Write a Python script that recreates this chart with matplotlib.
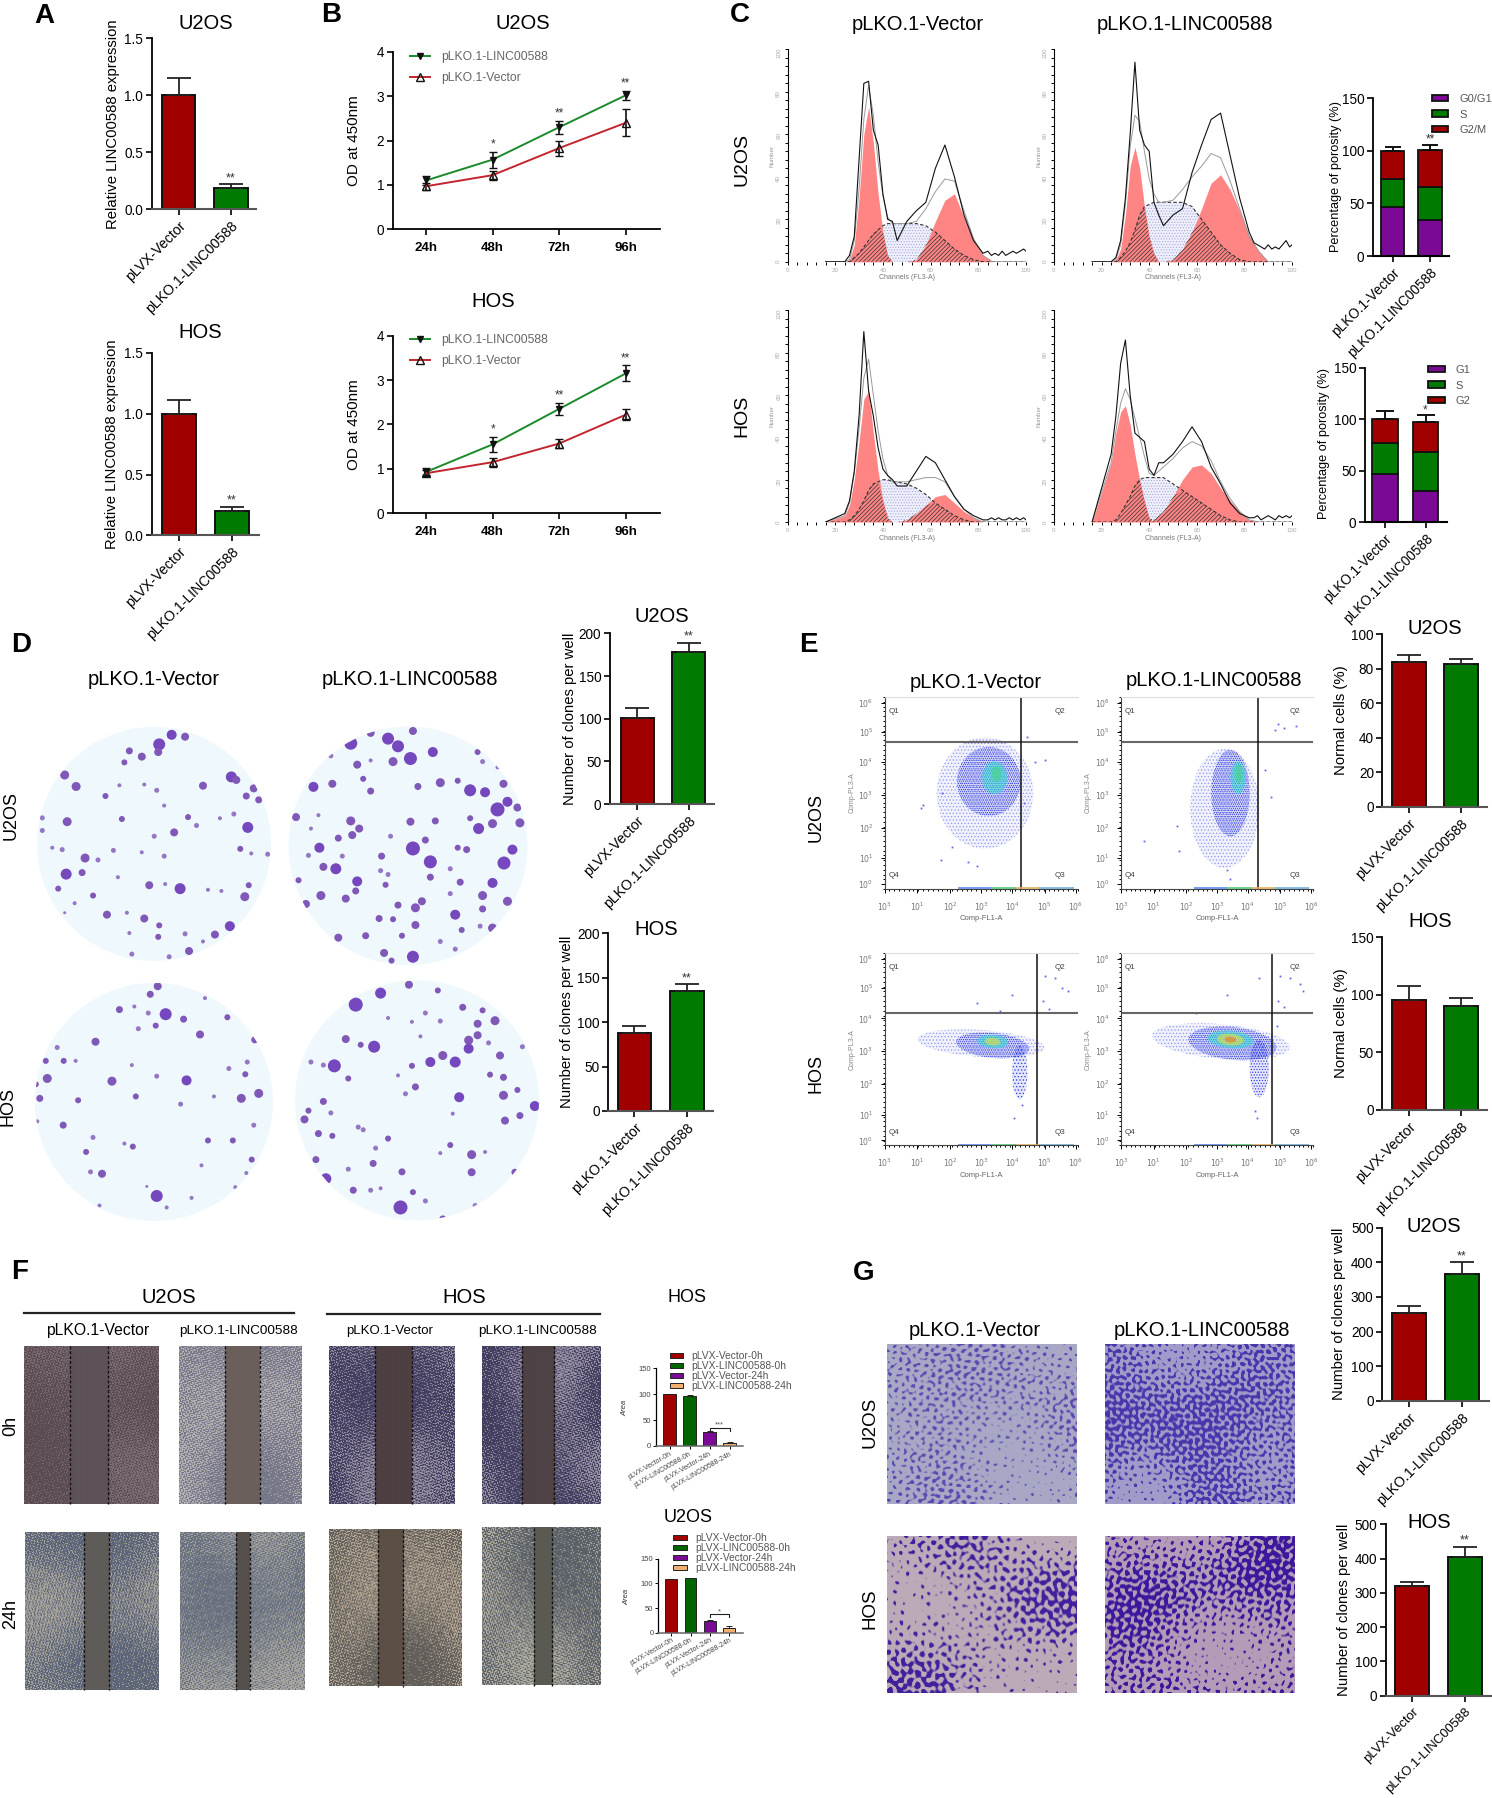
import numpy as np
import matplotlib
matplotlib.use('Agg')
import matplotlib.pyplot as plt
from matplotlib.patches import Ellipse
from matplotlib.colors import to_rgb
from matplotlib.ticker import MultipleLocator
from matplotlib.transforms import ScaledTranslation

plt.rcParams['font.family'] = ['Liberation Sans', 'DejaVu Sans']
plt.rcParams['hatch.linewidth'] = 0.5

W, H = 1492, 1798
RED = '#a00000'
GREEN = '#007a00'
PURPLE = '#7a0a96'

# panel A
a_u2os = [1.0, 0.19]
a_u2os_top = [1.15, 0.22]
a_hos = [1.0, 0.2]
a_hos_top = [1.11, 0.235]
lab_lvx = ['pLVX-Vector', 'pLKO.1-LINC00588']
lab_lko = ['pLKO.1-Vector', 'pLKO.1-LINC00588']

# panel B
hours = ['24h', '48h', '72h', '96h']
b_u_linc = [1.1, 1.57, 2.3, 3.02]
b_u_linc_err = [0.1, 0.18, 0.15, 0.1]
b_u_vec = [0.97, 1.22, 1.83, 2.4]
b_u_vec_err = [0.08, 0.1, 0.17, 0.3]
b_h_linc = [0.93, 1.55, 2.35, 3.15]
b_h_linc_err = [0.08, 0.17, 0.14, 0.18]
b_h_vec = [0.9, 1.15, 1.57, 2.22]
b_h_vec_err = [0.07, 0.1, 0.1, 0.12]
b_u_stars = ['', '*', '**', '**']
b_h_stars = ['', '*', '**', '**']

# panel C histograms, percent of panel height against channel
ch = [16, 24, 26, 28, 30, 32, 34, 36, 38, 40, 42, 44, 46, 50, 54, 58, 62, 66, 70, 74, 78, 82, 86, 90, 94, 98, 100]
c1_g1 = [0, 0, 1, 8, 30, 60, 73, 56, 32, 14, 3, 0, 0, 0, 0, 0, 0, 0, 0, 0, 0, 0, 0, 0, 0, 0, 0]
c1_s = [0, 0, 0, 2, 4, 7, 10, 13, 15, 17, 18, 18, 18, 18, 18, 17, 14, 10, 6, 3, 1, 0, 0, 0, 0, 0, 0]
c1_g2 = [0, 0, 0, 0, 0, 0, 0, 0, 0, 0, 0, 0, 0, 0, 1, 8, 19, 29, 32, 21, 10, 3, 0, 0, 0, 0, 0]
c1_raw = [0, 0, 3, 12, 48, 84, 85, 62, 55, 32, 20, 19, 10, 19, 24, 28, 44, 55, 40, 22, 10, 4]
c2_g1 = [0, 0, 1, 6, 22, 45, 54, 44, 26, 12, 4, 0, 0, 0, 0, 0, 0, 0, 0, 0, 0, 0, 0, 0, 0, 0, 0]
c2_s = [0, 0, 0, 2, 5, 9, 15, 22, 26, 27, 28, 28, 28, 28, 28, 26, 20, 14, 8, 4, 1, 0, 0, 0, 0, 0, 0]
c2_g2 = [0, 0, 0, 0, 0, 0, 0, 0, 0, 0, 0, 0, 0, 1, 6, 14, 25, 37, 41, 34, 24, 12, 5, 0, 0, 0, 0]
c2_raw = [0, 0, 2, 10, 30, 60, 94, 62, 55, 52, 28, 22, 17, 22, 25, 42, 55, 67, 70, 50, 30, 14]
c3_g1 = [0, 3, 8, 20, 38, 58, 62, 42, 24, 10, 2, 0, 0, 0, 0, 0, 0, 0, 0, 0, 0, 0, 0, 0, 0, 0, 0]
c3_s = [0, 0, 1, 3, 6, 10, 15, 18, 19, 20, 20, 19, 19, 18, 16, 13, 9, 6, 3, 1, 0, 0, 0, 0, 0, 0, 0]
c3_g2 = [0, 0, 0, 0, 0, 0, 0, 0, 0, 0, 0, 0, 0, 1, 4, 8, 12, 13, 9, 5, 2, 0, 0, 0, 0, 0, 0]
c3_raw = [0, 4, 10, 24, 50, 90, 62, 50, 35, 25, 22, 20, 17, 17, 24, 31, 28, 20, 12, 6, 3, 1]
c4_g1 = [0, 28, 42, 52, 55, 46, 32, 20, 10, 2, 0, 0, 0, 0, 0, 0, 0, 0, 0, 0, 0, 0, 0, 0, 0, 0, 0]
c4_s = [0, 0, 1, 4, 8, 12, 17, 20, 21, 21, 21, 21, 21, 18, 15, 12, 9, 6, 3, 1, 0, 0, 0, 0, 0, 0, 0]
c4_g2 = [0, 0, 0, 0, 0, 0, 0, 0, 0, 0, 1, 3, 5, 12, 20, 26, 27, 23, 16, 10, 5, 1, 0, 0, 0, 0, 0]
c4_raw = [0, 32, 50, 75, 86, 60, 42, 40, 38, 25, 22, 28, 28, 32, 38, 45, 38, 26, 18, 9, 4, 2]
# debris tail of the raw trace past channel 82
tail_ch = [84, 85.5, 87, 88.5, 90, 91.5, 93, 94.5, 96, 97.5, 99, 100]
c1_tail = [5, 3, 4, 3, 5, 3, 4, 5, 4, 5, 6, 5]
c2_tail = [9, 8, 7, 6, 8, 6, 7, 6, 8, 10, 7, 8]
c3_tail = [1, 2, 1, 2, 1, 1, 2, 1, 2, 1, 2, 1]
c4_tail = [2, 3, 1, 2, 3, 2, 1, 3, 2, 3, 2, 3]

# panel C stacked bars
c_u_g1 = [47, 34]
c_u_s = [26, 32]
c_u_g2 = [26.5, 35]
c_u_top = [104, 106]
c_h_g1 = [47, 30]
c_h_s = [30, 38]
c_h_g2 = [23, 29]
c_h_top = [108, 104]

# panel D
d_u2os = [101, 178]
d_u2os_top = [112, 189]
d_hos = [88, 135]
d_hos_top = [96, 143]

# panel E
e_u2os = [84, 83]
e_u2os_top = [88, 86]
e_hos = [95, 90]
e_hos_top = [108, 97.5]

# panel F small bars
f_names = ['pLVX-Vector-0h', 'pLVX-LINC00588-0h', 'pLVX-Vector-24h', 'pLVX-LINC00588-24h']
f_colors = ['#a00000', '#006400', '#7a0a96', '#f2b070']
f_hos = [100, 97, 27, 6]
f_hos_top = [101, 98, 28, 8]
f_u2os = [108, 110, 24, 9]
f_u2os_top = [109, 111.5, 25, 13]

# panel G
g_u2os = [253, 365]
g_u2os_top = [275, 400]
g_hos = [320, 405]
g_hos_top = [333, 435]

# colonies read from the plates, x, y, radius
plate1 = [(320,325,12),(345,300,10),(372,305,8),(260,342,7),(285,357,8),(318,345,8),(250,372,6),(130,405,9),(153,435,9),(212,460,6),(240,432,4),(290,430,4),(315,445,5),(408,433,8),(465,410,11),(475,418,8),(495,460,7),(510,440,8),(520,470,7),(135,527,9),(85,517,5),(245,520,6),(330,485,4),(378,515,6),(395,537,5),(442,518,4),(470,507,5),(498,542,11),(350,555,8),(310,565,5),(85,550,5),(105,595,4),(125,600,5),(171,622,9),(197,627,5),(228,602,5),(285,607,4),(330,617,5),(483,598,6),(505,610,4),(538,612,5),(133,664,11),(165,660,7),(237,672,4),(300,693,8),(332,690,4),(362,702,11),(418,705,4),(445,708,4),(500,693,6),(117,702,6),(187,720,6),(492,723,9),(150,740,4),(215,770,8),(255,765,4),(290,780,8),(130,765,3),(318,828,6),(320,798,6),(260,818,4),(372,820,5),(432,822,8),(462,800,10),(408,840,4),(380,865,8),(265,873,5),(340,880,5)]
plate2 = [(705,322,13),(745,295,8),(780,310,12),(800,330,12),(830,290,8),(825,362,13),(870,345,10),(790,370,9),(665,355,5),(718,378,8),(745,367,4),(960,345,6),(970,370,5),(1000,385,4),(630,436,10),(668,428,8),(730,415,6),(745,447,7),(840,435,7),(885,425,9),(920,420,6),(945,445,12),(975,450,10),(1012,428,8),(1040,490,8),(1000,495,14),(1020,475,10),(595,515,8),(640,510,4),(705,525,9),(722,545,8),(708,562,8),(680,570,7),(642,595,10),(625,545,4),(785,565,5),(825,527,8),(875,525,7),(945,518,6),(962,545,11),(990,532,9),(1045,530,9),(1030,600,10),(830,597,14),(855,575,7),(767,617,7),(688,617,5),(620,615,5),(650,645,8),(675,650,11),(865,632,13),(920,595,6),(938,600,7),(1013,635,13),(905,650,5),(765,655,5),(780,665,5),(718,683,10),(600,680,6),(645,720,9),(695,728,8),(715,708,7),(775,692,6),(865,672,7),(925,685,7),(990,687,10),(970,720,9),(905,715,5),(615,742,8),(800,745,7),(835,752,9),(848,735,8),(970,755,7),(1020,735,9),(915,770,10),(762,780,7),(790,782,6),(835,797,8),(928,810,6),(965,800,5),(990,805,9),(735,825,7),(680,830,8),(808,825,6),(772,870,8),(787,890,6),(830,880,12),(915,860,5),(885,840,5)]
plate3 = [(317,957,8),(302,978,7),(412,988,4),(240,1018,7),(270,1010,4),(298,1027,5),(333,1030,12),(369,1043,7),(457,1038,6),(278,1068,5),(313,1060,6),(402,1083,8),(192,1102,8),(512,1097,7),(115,1117,5),(128,1152,6),(92,1152,6),(152,1152,4),(265,1163,4),(460,1172,5),(497,1155,5),(493,1187,6),(95,1198,9),(80,1250,7),(225,1205,9),(315,1192,5),(375,1203,10),(72,1213,6),(520,1237,9),(157,1255,6),(273,1245,6),(430,1245,4),(485,1250,9),(363,1265,5),(127,1320,7),(75,1310,4),(510,1320,5),(187,1352,5),(418,1360,6),(468,1360,6),(250,1368,4),(267,1376,6),(173,1390,6),(506,1410,6),(205,1447,8),(182,1442,5),(405,1425,4),(495,1445,4),(315,1505,12),(200,1530,4),(385,1510,4),(473,1482,4),(335,1535,4),(295,1480,3)]
plate4 = [(715,1005,14),(765,975,11),(822,953,8),(880,968,6),(930,1012,7),(970,1020,6),(995,1047,9),(960,1055,8),(885,1048,5),(828,1050,4),(780,1040,4),(855,1027,5),(695,1095,8),(725,1110,6),(752,1115,12),(845,1088,4),(942,1098,9),(942,1120,10),(960,1085,8),(1005,1138,8),(982,1105,5),(890,1138,9),(865,1155,10),(915,1155,11),(672,1165,13),(650,1163,5),(625,1155,5),(828,1165,6),(1050,1115,5),(985,1188,6),(1012,1195,7),(800,1190,4),(700,1198,6),(835,1220,7),(815,1238,5),(923,1247,10),(1012,1242,9),(1075,1270,10),(1040,1228,6),(650,1258,7),(620,1282,6),(665,1288,5),(612,1305,8),(1045,1295,7),(1015,1308,8),(910,1290,4),(640,1342,7),(668,1348,6),(720,1325,5),(730,1332,5),(780,1355,6),(755,1380,5),(905,1372,6),(948,1397,9),(975,1390,4),(885,1393,4),(635,1410,7),(655,1460,11),(750,1420,7),(808,1442,7),(948,1443,8),(1035,1443,7),(700,1435,5),(710,1490,7),(745,1490,5),(830,1495,6),(805,1535,14),(765,1485,4),(855,1518,5),(955,1530,5),(890,1565,7),(680,1520,4)]

fig = plt.figure(figsize=(W / 100, H / 100), dpi=100)

# whole figure in pixels, for photos and loose text
bg = fig.add_axes([0, 0, 1, 1])
bg.set_xlim(0, W)
bg.set_ylim(H, 0)
bg.set_autoscale_on(False)
bg.axis('off')


def px_axes(x0, y0, x1, y1):
    # pixel box, y measured from the top
    return fig.add_axes([x0 / W, 1 - y1 / H, (x1 - x0) / W, (y1 - y0) / H], facecolor='none')


def fx(x, y):
    return (x / W, 1 - y / H)


def txt(x, y, s, size=14.5, rot=0, **kw):
    bg.text(x, y, s, fontsize=size, rotation=rot, ha='center', va='center', **kw)


def nudge_labels(ax, dx=-3):
    off = ScaledTranslation(dx / 100, 0, fig.dpi_scale_trans)
    for lbl in ax.get_xticklabels():
        lbl.set_transform(lbl.get_transform() + off)


def bar_panel(box, c1, c2, bw, ylim, yticks, vals, tops, labels, ylabel, ylab_x, star=None, lab_size=10.2):
    x0, y0, x1, y1 = box
    ax = px_axes(*box)
    d = c2 - c1
    ax.set_xlim(-(c1 - x0) / d, (x1 - c1) / d)
    ax.set_ylim(0, ylim)
    for i, v in enumerate(vals):
        ax.bar(i, v, width=bw / d, color=[RED, GREEN][i], edgecolor='#111111', linewidth=1.4)
        ax.errorbar(i, v, yerr=[[0], [tops[i] - v]], color='#222222', capsize=bw * 0.26, elinewidth=1.3, capthick=1.3)
    ax.set_xticks([0, 1])
    ax.set_xticklabels(labels, rotation=45, ha='right', va='top', rotation_mode='anchor', fontsize=lab_size)
    nudge_labels(ax)
    ax.set_yticks(yticks)
    ax.tick_params(axis='y', labelsize=9.8, width=1.2, length=4, pad=2)
    ax.tick_params(axis='x', width=1.2, length=4, pad=3)
    for s in ['top', 'right']:
        ax.spines[s].set_visible(False)
    ax.spines['left'].set_linewidth(1.3)
    ax.spines['bottom'].set_linewidth(1.5)
    ax.spines['bottom'].set_color('#555555')
    if star:
        ax.text(1, tops[1], star, ha='center', va='bottom', fontsize=9, color='#333333')
    txt(ylab_x, (y0 + y1) / 2, ylabel, size=10.7, rot=90)
    return ax


def line_panel(box, linc, linc_err, vec, vec_err, stars, leg_top):
    x0, y0, x1, y1 = box
    ax = px_axes(*box)
    c1, d = 426, 66.6
    ax.set_xlim(-(c1 - x0) / d, (x1 - c1) / d)
    ax.set_ylim(0, 4)
    xs = np.arange(4)
    ax.errorbar(xs, linc, yerr=linc_err, fmt='none', ecolor='#111111', capsize=3, elinewidth=1.2)
    ax.errorbar(xs, vec, yerr=vec_err, fmt='none', ecolor='#111111', capsize=3, elinewidth=1.2)
    ax.plot(xs, linc, color='#1a8a2a', lw=1.4, marker='v', ms=5, mfc='#111111', mec='#111111', label='pLKO.1-LINC00588')
    ax.plot(xs, vec, color='#c4242e', lw=1.4, marker='^', ms=6, mfc='none', mec='#111111', label='pLKO.1-Vector')
    for i, st in enumerate(stars):
        if st:
            ax.text(i, linc[i] + linc_err[i] + 0.03, st, ha='center', va='bottom', fontsize=8.5, color='#333333')
    ax.set_xticks(xs)
    ax.set_xticklabels(hours, fontsize=9.5, fontweight='bold')
    ax.set_yticks(range(5))
    ax.tick_params(axis='y', labelsize=9.8, width=1.2, length=4, pad=2)
    ax.tick_params(axis='x', width=1.2, length=4, pad=5)
    for s in ['top', 'right']:
        ax.spines[s].set_visible(False)
    ax.spines['left'].set_linewidth(1.3)
    ax.spines['bottom'].set_linewidth(1.3)
    ax.legend(loc='upper left', bbox_to_anchor=fx(409.5, leg_top), bbox_transform=fig.transFigure, frameon=False,
              fontsize=8.7, borderpad=0, borderaxespad=0, handlelength=1.66, labelspacing=0.75, handletextpad=1.0,
              labelcolor='#666666')
    txt(354, (y0 + y1) / 2, 'OD at 450nm', size=11, rot=90)
    return ax


def hist_panel(box, g1, s_phase, g2, raw, tail):
    ax = px_axes(*box)
    x = np.array(ch)
    g1, s_phase, g2 = map(np.array, (g1, s_phase, g2))
    ax.fill_between(x, s_phase, color='#eef0fb', lw=0, zorder=1)
    ax.fill_between(x, s_phase, facecolor='none', edgecolor='#a8a8dc', hatch='......', lw=0, zorder=1)
    ax.fill_between(x, g1, color='#ff8585', lw=0, zorder=2)
    ax.fill_between(x, g2, color='#ff8585', lw=0, zorder=2)
    overlap = np.minimum(s_phase, np.maximum(g1, g2))
    ax.fill_between(x, overlap, facecolor='none', edgecolor='#333333', hatch='////////', lw=0, zorder=3)
    ax.plot(x, s_phase, color='#333333', lw=0.8, ls=(0, (3, 2)), zorder=4)
    ax.plot(x, g1 + s_phase + g2, color='#999999', lw=0.7, zorder=4)
    ax.plot(ch[:22] + tail_ch, raw + tail, color='#111111', lw=0.8, zorder=5)
    ax.set_xlim(0, 100)
    ax.set_ylim(0, 100)
    ax.xaxis.set_major_locator(MultipleLocator(20))
    ax.xaxis.set_minor_locator(MultipleLocator(4))
    ax.yaxis.set_major_locator(MultipleLocator(20))
    ax.yaxis.set_minor_locator(MultipleLocator(4))
    ax.tick_params(which='both', width=0.7, length=2.5, labelsize=4.5, labelcolor='#aaaaaa', pad=2, direction='out')
    ax.tick_params(axis='y', which='both', labelrotation=90)
    for s in ['top', 'right']:
        ax.spines[s].set_visible(False)
    ax.spines['bottom'].set_visible(False)
    ax.spines['left'].set_linewidth(0.8)
    ax.set_xlabel('Channels (FL3-A)', fontsize=5, color='#777777', labelpad=1)
    ax.set_ylabel('Number', fontsize=4.5, color='#999999', labelpad=1)
    return ax


def stack_panel(box, c1, c2, bw, g1, s_phase, g2, tops, names, legend_xy, star, patch_em):
    x0, y0, x1, y1 = box
    ax = px_axes(*box)
    d = c2 - c1
    ax.set_xlim(-(c1 - x0) / d, (x1 - c1) / d)
    ax.set_ylim(0, 150)
    g1, s_phase, g2 = map(np.array, (g1, s_phase, g2))
    hs = []
    for vals, base, col in [(g1, 0, PURPLE), (s_phase, g1, GREEN), (g2, g1 + s_phase, RED)]:
        hs.append(ax.bar([0, 1], vals, bottom=base, width=bw / d, color=col, edgecolor='#111111', linewidth=1.3))
    total = g1 + s_phase + g2
    ax.errorbar([0, 1], total, yerr=[[0, 0], np.array(tops) - total], fmt='none', ecolor='#111111',
                capsize=bw * 0.26, elinewidth=1.4, capthick=1.4)
    ax.text(1, tops[1] - 1, star, ha='center', va='bottom', fontsize=8.5, color='#333333')
    ax.set_xticks([0, 1])
    ax.set_xticklabels(lab_lko, rotation=45, ha='right', va='top', rotation_mode='anchor', fontsize=9.8)
    nudge_labels(ax)
    ax.set_yticks([0, 50, 100, 150])
    ax.tick_params(axis='y', labelsize=9.8, width=1.2, length=4, pad=2)
    ax.tick_params(axis='x', width=1.2, length=4, pad=3)
    for s in ['top', 'right']:
        ax.spines[s].set_visible(False)
    ax.spines['left'].set_linewidth(1.3)
    ax.spines['bottom'].set_linewidth(1.5)
    fig.legend(handles=hs, labels=names, loc='upper left', bbox_to_anchor=legend_xy, frameon=False, fontsize=8,
               borderpad=0, borderaxespad=0, handlelength=patch_em, handleheight=0.5, labelspacing=0.5,
               handletextpad=1.0, labelcolor='#555555')
    return ax


def mini_panel(box, centers, vals, tops, bracket_y, star, legend_xy, area_x):
    x0, y0, x1, y1 = box
    ax = px_axes(*box)
    d = centers[1] - centers[0]
    ax.set_xlim(-(centers[0] - x0) / d, (x1 - centers[0]) / d)
    ax.set_ylim(0, 150)
    xs = np.arange(4)
    hs = ax.bar(xs, vals, width=0.62, color=f_colors, edgecolor='#222222', linewidth=0.7)
    ax.errorbar(xs, vals, yerr=[[0] * 4, np.array(tops) - np.array(vals)], fmt='none', ecolor='#222222',
                capsize=2, elinewidth=0.7, capthick=0.7)
    ax.plot([2, 2, 3, 3], [bracket_y - 6, bracket_y, bracket_y, bracket_y - 6], color='#222222', lw=0.8)
    ax.text(2.5, bracket_y - 1, star, ha='center', va='bottom', fontsize=5.5, color='#555555')
    ax.set_xticks(xs)
    ax.set_xticklabels(f_names, rotation=30, ha='right', va='top', rotation_mode='anchor', fontsize=5, color='#444444')
    ax.set_yticks([0, 50, 100, 150])
    ax.tick_params(axis='y', labelsize=5.5, width=0.7, length=2, pad=1.5, labelcolor='#444444')
    ax.tick_params(axis='x', width=0.7, length=2, pad=1)
    for s in ['top', 'right']:
        ax.spines[s].set_visible(False)
    ax.spines['left'].set_linewidth(0.9)
    ax.spines['bottom'].set_linewidth(1.1)
    ax.spines['bottom'].set_color('#666666')
    fig.legend(handles=list(hs), labels=f_names, loc='upper left', bbox_to_anchor=legend_xy, frameon=False, fontsize=7.4,
               borderpad=0, borderaxespad=0, handlelength=1.3, handleheight=0.45, labelspacing=0.0,
               handletextpad=0.8, labelcolor='#555555')
    txt(area_x, (y0 + y1) / 2 + 1, 'Area', size=5.5, rot=90, style='italic', color='#333333')


def flow_panel(box, gx, gy, clouds, strays):
    ax = px_axes(*box)
    ax.set_xlim(0, 1)
    ax.set_ylim(0, 1)
    for cx, cy, w, h, ang, col, hatch in clouds:
        if hatch:
            ax.add_patch(Ellipse((cx, cy), w, h, angle=ang, facecolor=col, lw=0, alpha=0.13))
            ax.add_patch(Ellipse((cx, cy), w, h, angle=ang, facecolor='none', edgecolor=col, hatch=hatch, lw=0))
        else:
            ax.add_patch(Ellipse((cx, cy), w, h, angle=ang, facecolor=col, lw=0, alpha=0.6))
    if strays:
        ax.plot([p[0] for p in strays], [p[1] for p in strays], ls='', marker='s', ms=1.3, color='#5a66e8', mew=0)
    ax.axhline(gy, color='#666666', lw=1.5)
    ax.axvline(gx, color='#111111', lw=1.1)
    # coloured events on the axis
    for a, b, col in [(0.38, 0.55, '#5a8cf0'), (0.55, 0.68, '#55c878'), (0.68, 0.8, '#e8b060'), (0.8, 0.98, '#70b0e0')]:
        ax.plot([a, b], [0.004, 0.004], color=col, lw=1.2, solid_capstyle='butt')
    ax.text(0.02, 0.925, 'Q1', fontsize=5.8, color='#444444', va='center')
    ax.text(0.88, 0.925, 'Q2', fontsize=5.8, color='#444444', va='center')
    ax.text(0.02, 0.068, 'Q4', fontsize=5.8, color='#444444', va='center')
    ax.text(0.88, 0.068, 'Q3', fontsize=5.8, color='#444444', va='center')
    ax.set_xticks([0.0, 0.17, 0.34, 0.5, 0.66, 0.83, 0.99])
    ax.set_xticklabels(['$10^{3}$', '$10^{1}$', '$10^{2}$', '$10^{3}$', '$10^{4}$', '$10^{5}$', '$10^{6}$'])
    ax.set_yticks([0.026, 0.16, 0.32, 0.49, 0.66, 0.82, 0.97])
    ax.set_yticklabels(['$10^{0}$', '$10^{1}$', '$10^{2}$', '$10^{3}$', '$10^{4}$', '$10^{5}$', '$10^{6}$'])
    ax.xaxis.set_minor_locator(MultipleLocator(0.025))
    ax.yaxis.set_minor_locator(MultipleLocator(0.025))
    ax.tick_params(which='both', labelsize=5.6, labelcolor='#777777', width=0.7, length=3, pad=5)
    ax.tick_params(which='minor', length=1.5)
    ax.spines['right'].set_visible(False)
    ax.spines['top'].set_color('#dddddd')
    ax.spines['left'].set_color('#444444')
    ax.spines['bottom'].set_color('#444444')
    ax.set_xlabel('Comp-FL1-A', fontsize=5.5, color='#666666', labelpad=2)
    ax.set_ylabel('Comp-PL3-A', fontsize=5, color='#888888', labelpad=2)


def plate(cx, cy, r, colonies):
    disc = Ellipse((cx, cy), 2 * r[0], 2 * r[1], facecolor='#eff8fc', lw=0)
    bg.add_patch(disc)
    xs = np.array([c[0] for c in colonies]) / 2.01
    ys = 620 + np.array([c[1] for c in colonies]) / 2.613
    rs = np.array([c[2] for c in colonies]) / 2.0
    cols = ['#7648be' if c[2] > 9 else '#8058b8' if c[2] > 5 else '#9478c4' for c in colonies]
    sc = bg.scatter(xs, ys, s=(2 * rs * 0.72) ** 2, c=cols, linewidths=0)
    sc.set_clip_path(disc)


def grain(nx, ny, freq, phase):
    # photo texture only: sum of crossed sine waves, normalised
    yy, xx = np.mgrid[0:ny, 0:nx]
    z = np.zeros((ny, nx))
    for k in range(9):
        ang = phase + k * 2.39996
        f = freq * (0.75 + 0.5 * ((k * 0.618) % 1))
        z += np.sin(xx * f * np.cos(ang) + yy * f * np.sin(ang) + k * 1.7 + phase)
    return (z - z.mean()) / z.std()


def photo(x0, x1, y0, y1, base, dark, freq, thr, phase, patch=0.0):
    nx, ny = int(x1 - x0), int(y1 - y0)
    z = grain(nx, ny, freq, phase)
    if patch:
        z = z + patch * grain(nx, ny, 0.04, phase + 1)
    mix = np.clip((z - thr) * 1.6, 0, 1)[..., None]
    img = np.array(to_rgb(base)) * (1 - mix) + np.array(to_rgb(dark)) * mix
    bg.imshow(img, extent=(x0, x1, y1, y0), aspect='auto', interpolation='bilinear', zorder=1)


def wound(x0, x1, y0, y1, g0, g1, cell, speck, gap, phase):
    photo(x0, x1, y0, y1, cell, speck, 2.6, 0.1, phase, patch=0.5)
    photo(g0, g1, y0, y1, gap, speck, 0.15, 5, phase + 2)
    bg.plot([g0, g0], [y0, y1], color='#111111', lw=1.0, ls=(0, (2, 1.5)), zorder=2)
    bg.plot([g1, g1], [y0, y1], color='#111111', lw=1.0, ls=(0, (2, 1.5)), zorder=2)


# panel letters
for (lx, ly, let) in [(44.5, 16, 'A'), (331.5, 15, 'B'), (739.7, 15, 'C'), (21.4, 645, 'D'),
                      (808.6, 645, 'E'), (19.4, 1272.4, 'F'), (864, 1272.5, 'G')]:
    txt(lx, ly, let, size=20, fontweight='bold')

# A
txt(205.7, 23.7, 'U2OS')
bar_panel((151.5, 38.4, 256, 209.2), 178.5, 231, 33.5, 1.5, [0, 0.5, 1.0, 1.5], a_u2os, a_u2os_top, lab_lvx,
          'Relative LINC00588 expression', 113, '**').set_yticklabels(['0.0', '0.5', '1.0', '1.5'])
txt(200, 333, 'HOS')
bar_panel((151.5, 353, 259.4, 535.4), 178.5, 232, 34, 1.5, [0, 0.5, 1.0, 1.5], a_hos, a_hos_top, lab_lvx,
          'Relative LINC00588 expression', 111.6, '**').set_yticklabels(['0.0', '0.5', '1.0', '1.5'])

# B
txt(523, 23.7, 'U2OS')
line_panel((392.6, 51.8, 660, 229.3), b_u_linc, b_u_linc_err, b_u_vec, b_u_vec_err, b_u_stars, 51)
txt(493.6, 301.3, 'HOS')
line_panel((392.6, 335.7, 660, 513.2), b_h_linc, b_h_linc_err, b_h_vec, b_h_vec_err, b_h_stars, 334)

# C
txt(918, 25, 'pLKO.1-Vector')
txt(1185, 25, 'pLKO.1-LINC00588')
txt(742, 160, 'U2OS', size=14, rot=90)
txt(742, 416, 'HOS', size=14, rot=90)
hist_panel((787.5, 49.4, 1026, 261.8), c1_g1, c1_s, c1_g2, c1_raw, c1_tail)
hist_panel((1054, 49.4, 1292, 261.8), c2_g1, c2_s, c2_g2, c2_raw, c2_tail)
hist_panel((787.5, 310.4, 1026, 522), c3_g1, c3_s, c3_g2, c3_raw, c3_tail)
hist_panel((1054, 310.4, 1292, 522), c4_g1, c4_s, c4_g2, c4_raw, c4_tail)
stack_panel((1372.7, 98.3, 1449, 256), 1392.5, 1430, 23.5, c_u_g1, c_u_s, c_u_g2, c_u_top,
            ['G0/G1', 'S', 'G2/M'], fx(1432, 94), '**', 1.45)
txt(1335.7, 176, 'Percentage of porosity (%)', size=9.2, rot=90)
stack_panel((1364.5, 367.7, 1447, 522), 1385, 1425.5, 25.5, c_h_g1, c_h_s, c_h_g2, c_h_top,
            ['G1', 'S', 'G2'], fx(1427.5, 365), '*', 1.55)
txt(1323.6, 443.7, 'Percentage of porosity (%)', size=9.2, rot=90)

# D
txt(154, 679.3, 'pLKO.1-Vector')
txt(409.5, 679.3, 'pLKO.1-LINC00588')
txt(11, 815, 'U2OS', size=13, rot=90)
txt(8.5, 1106, 'HOS', size=13, rot=90)
plate(154, 843.9, (117, 117), plate1)
plate(408, 845.8, (119.4, 119.4), plate2)
plate(154, 1102, (119, 119), plate3)
plate(417, 1100.3, (122, 120), plate4)
txt(662, 616, 'U2OS')
bar_panel((609.5, 633.4, 714.4, 804), 637, 688.5, 33, 200, [0, 50, 100, 150, 200], d_u2os, d_u2os_top, lab_lvx,
          'Number of clones per well', 569.7, '**')
txt(655.7, 929.2, 'HOS')
bar_panel((608, 933.4, 713, 1111), 634.4, 687, 33.5, 200, [0, 50, 100, 150, 200], d_hos, d_hos_top, lab_lko,
          'Number of clones per well', 566.7, '**')

# E
txt(975.5, 682.4, 'pLKO.1-Vector')
txt(1214, 680, 'pLKO.1-LINC00588')
txt(816.4, 817, 'U2OS', size=13, rot=90)
txt(816.4, 1073.5, 'HOS', size=13, rot=90)
blue = '#2a36e0'
pale = '#8f98f0'
flow_panel((884.5, 697, 1077.7, 889), 0.707, 0.767,
           [(0.52, 0.5, 0.5, 0.58, 0, pale, '.....'), (0.54, 0.56, 0.33, 0.36, 0, blue, '........'),
            (0.57, 0.58, 0.13, 0.17, 0, '#38d8d0', None), (0.58, 0.6, 0.05, 0.08, 0, '#40d880', None)],
           [(0.78, 0.66), (0.83, 0.67), (0.74, 0.79), (0.72, 0.45), (0.3, 0.5), (0.2, 0.44), (0.29, 0.15), (0.48, 0.12), (0.19, 0.42), (0.35, 0.22), (0.43, 0.14)])
flow_panel((1121, 697, 1313, 889), 0.711, 0.767,
           [(0.54, 0.42, 0.36, 0.62, 0, pale, '.....'), (0.57, 0.5, 0.2, 0.45, 0, blue, '........'),
            (0.61, 0.58, 0.08, 0.17, 0, '#38d8d0', None), (0.615, 0.6, 0.035, 0.1, 0, '#40d880', None)],
           [(0.8, 0.83), (0.82, 0.86), (0.85, 0.84), (0.91, 0.85), (0.75, 0.62), (0.78, 0.48), (0.12, 0.25), (0.29, 0.33), (0.55, 0.1), (0.3, 0.2), (0.57, 0.05)])
flow_panel((884.5, 953, 1077.7, 1145.4), 0.788, 0.688,
           [(0.5, 0.53, 0.66, 0.14, -4, pale, '.....'), (0.56, 0.52, 0.38, 0.13, -6, blue, '........'),
            (0.7, 0.38, 0.08, 0.28, 0, blue, '.....'), (0.56, 0.54, 0.16, 0.07, -4, '#38d8d0', None),
            (0.56, 0.54, 0.08, 0.04, -4, '#e0e040', None)],
           [(0.83, 0.88), (0.88, 0.87), (0.92, 0.82), (0.95, 0.8), (0.82, 0.75), (0.85, 0.71), (0.48, 0.74), (0.66, 0.78), (0.6, 0.7), (0.71, 0.21), (0.67, 0.14)])
flow_panel((1121, 953, 1313, 1145.4), 0.788, 0.688,
           [(0.52, 0.54, 0.72, 0.18, -5, pale, '.....'), (0.58, 0.53, 0.46, 0.17, -6, blue, '........'),
            (0.72, 0.4, 0.1, 0.3, 0, blue, '......'), (0.57, 0.55, 0.24, 0.09, -5, '#38d8d0', None),
            (0.57, 0.55, 0.14, 0.06, -5, '#e0e040', None), (0.57, 0.55, 0.06, 0.03, -5, '#f07030', None)],
           [(0.83, 0.88), (0.88, 0.87), (0.93, 0.84), (0.95, 0.8), (0.82, 0.75), (0.85, 0.72), (0.72, 0.87), (0.39, 0.69), (0.55, 0.78), (0.7, 0.18), (0.71, 0.14), (0.81, 0.62)])
txt(1435, 628.4, 'U2OS')
bar_panel((1382.3, 634.5, 1487, 806.8), 1409, 1461, 33.5, 100, [0, 20, 40, 60, 80, 100], e_u2os, e_u2os_top, lab_lvx,
          'Normal cells (%)', 1341.4)
txt(1430, 921.2, 'HOS')
bar_panel((1382.3, 937.3, 1487, 1109.5), 1409, 1461, 33.5, 150, [0, 50, 100, 150], e_hos, e_hos_top, lab_lvx,
          'Normal cells (%)', 1341.4)

# F
txt(168.4, 1297.8, 'U2OS')
txt(464, 1297.8, 'HOS')
bg.plot([24, 294], [1312.6, 1312.6], color='#222222', lw=1.6)
bg.plot([327.4, 600.4], [1313.7, 1313.7], color='#222222', lw=1.6)
for lx, nm, sz in [(97.8, 'pLKO.1-Vector', 11.3), (238.5, 'pLKO.1-LINC00588', 9.7), (389.6, 'pLKO.1-Vector', 9.5), (537.6, 'pLKO.1-LINC00588', 9.7)]:
    txt(lx, 1330.7, nm, size=sz)
txt(10.5, 1425.6, '0h', size=13, rot=90)
txt(10.5, 1614, '24h', size=13, rot=90)
wound(24, 159, 1346, 1504, 69.6, 108.3, '#5a4c52', '#7a6c72', '#5c5257', 0.3)
wound(178.9, 301.8, 1346, 1504, 225, 260, '#77778a', '#b8b4b4', '#6b5f5c', 1.1)
wound(328.5, 454, 1346, 1504, 375, 411.6, '#423e60', '#9a92a4', '#4e3f42', 1.9)
wound(481.7, 600.4, 1346, 1504, 522, 554.4, '#423e60', '#9a92a4', '#4e4245', 2.6)
wound(25, 159, 1532.5, 1690, 83.7, 108.8, '#5c6478', '#a8a59c', '#5f5b58', 3.3)
wound(180.4, 305, 1532.5, 1690, 236.4, 249.5, '#687080', '#aaa8a0', '#55504c', 4.1)
wound(328.5, 461.3, 1529.6, 1686.5, 377.6, 402.7, '#625e5a', '#bcae9a', '#5c4f45', 4.9)
wound(481.7, 600.4, 1528, 1685.5, 533.5, 551.8, '#5a6068', '#b4b0a2', '#5a5a52', 5.7)
txt(686.7, 1297.3, 'HOS', size=13)
mini_panel((656, 1368.3, 743.3, 1446), [669.5, 689.5], f_hos, f_hos_top, 35, '***', fx(670, 1351), 625)
txt(688.3, 1517.7, 'U2OS', size=13)
mini_panel((658.3, 1558.7, 742.7, 1632.7), [671.2, 690.5], f_u2os, f_u2os_top, 37, '*', fx(673.3, 1533), 627)

# G
txt(975, 1330.8, 'pLKO.1-Vector')
txt(1202, 1330.8, 'pLKO.1-LINC00588')
txt(869.7, 1422, 'U2OS', size=13.5, rot=90)
txt(869.7, 1609, 'HOS', size=13.5, rot=90)
photo(886.9, 1076.3, 1345, 1504.4, '#a8a8c6', '#5a4ab0', 0.95, 0.75, 0.7, patch=0.35)
photo(1105, 1295, 1345, 1504.4, '#a09cca', '#4a36ac', 1.0, 0.0, 1.4, patch=0.45)
photo(886.9, 1076.3, 1536.4, 1693, '#bcaab8', '#40209c', 0.8, 0.65, 2.2, patch=0.6)
photo(1105, 1295, 1536.4, 1693, '#b49cb8', '#3c189c', 0.9, 0.2, 3.1, patch=0.6)
txt(1434, 1226.7, 'U2OS')
bar_panel((1381.9, 1227.5, 1488.7, 1401), 1408.8, 1461.5, 34, 500, [0, 100, 200, 300, 400, 500], g_u2os, g_u2os_top, lab_lvx,
          'Number of clones per well', 1339.5, '**')
txt(1428.7, 1522.7, 'HOS')
bar_panel((1385.8, 1524.2, 1490.8, 1695.8), 1412, 1464.5, 34, 500, [0, 100, 200, 300, 400, 500], g_hos, g_hos_top, lab_lvx,
          'Number of clones per well', 1343.8, '**', lab_size=9.4)

fig.savefig('out.png', dpi=100)
